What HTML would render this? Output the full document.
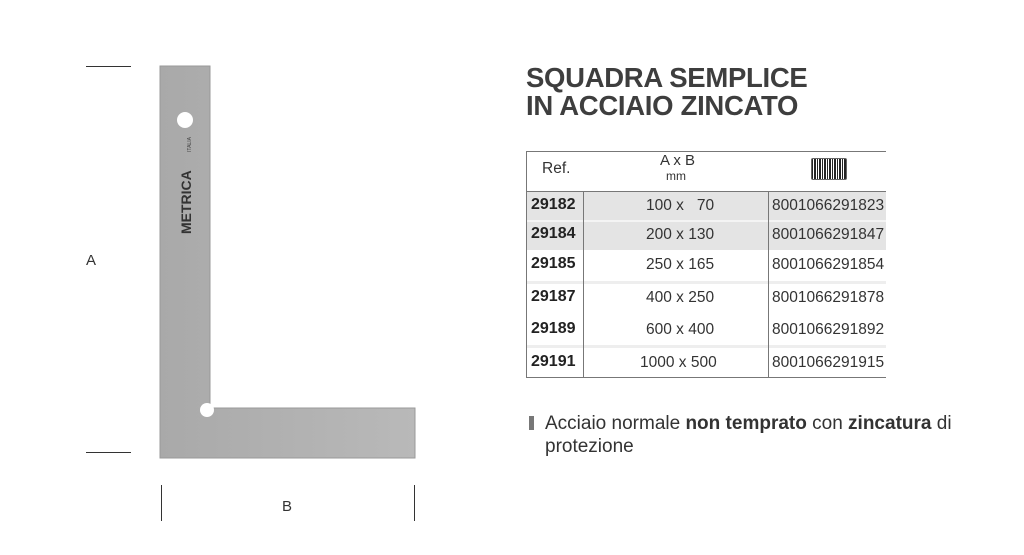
<!DOCTYPE html>
<html><head><meta charset="utf-8"><style>
body{margin:0;width:1024px;height:555px;background:#fff;position:relative;overflow:hidden;font-family:"Liberation Sans",sans-serif;color:#333}
.a{position:absolute}
.t{font-weight:bold;font-size:27.5px;color:#3e3e3e;letter-spacing:-0.3px;line-height:28px}
.c{position:absolute;font-size:15.5px;color:#333;white-space:nowrap}
.r{font-weight:bold;font-size:16px;color:#222}
</style></head><body>
<div class="a" style="left:86px;top:66px;width:45px;height:1px;background:#333"></div>
<div class="a" style="left:86px;top:452px;width:45px;height:1px;background:#333"></div>
<div class="c" style="left:86px;top:252px;font-size:15px">A</div>
<div class="a" style="left:161px;top:485px;width:1px;height:36px;background:#333"></div>
<div class="a" style="left:414px;top:485px;width:1px;height:36px;background:#333"></div>
<div class="c" style="left:282px;top:498px;font-size:15px">B</div>
<svg class="a" style="left:0;top:0" width="1024" height="555">
<defs><linearGradient id="g" x1="0" x2="1"><stop offset="0" stop-color="#a9a9a9"/><stop offset="1" stop-color="#b9b9b9"/></linearGradient></defs>
<path d="M160 66 H210 V408 H415 V458 H160 Z" fill="url(#g)" stroke="#999" stroke-width="1"/>
<circle cx="185" cy="120" r="8" fill="#fff"/>
<circle cx="207" cy="410" r="7" fill="#fff"/>
<text x="0" y="0" transform="translate(191,234) rotate(-90)" font-family="Liberation Sans" font-weight="bold" font-size="14" fill="#333">METRICA</text>
<text x="0" y="0" transform="translate(191,152) rotate(-90)" font-family="Liberation Sans" font-size="5" fill="#444">ITALIA</text>
</svg>
<div class="a t" style="left:526px;top:64px">SQUADRA SEMPLICE<br>IN ACCIAIO ZINCATO</div>
<div class="a" style="left:526px;top:151px;width:360px;height:1px;background:#777"></div>
<div class="a" style="left:526px;top:151px;width:1px;height:227px;background:#777"></div>
<div class="a" style="left:526px;top:377px;width:360px;height:1px;background:#777"></div>
<div class="a" style="left:526px;top:191px;width:360px;height:1px;background:#777"></div>
<div class="a" style="left:527px;top:192px;width:359px;height:58px;background:#e4e4e4"></div>
<div class="a" style="left:527px;top:220px;width:359px;height:2px;background:#f4f4f4"></div>
<div class="a" style="left:527px;top:281px;width:359px;height:3px;background:#eee"></div>
<div class="a" style="left:527px;top:345px;width:359px;height:3px;background:#eee"></div>
<div class="a" style="left:583px;top:192px;width:1px;height:185px;background:#777"></div>
<div class="a" style="left:768px;top:192px;width:1px;height:185px;background:#777"></div>
<div class="c" style="left:542px;top:160px">Ref.</div>
<div class="c" style="left:660px;top:152px;font-size:15px">A x B</div>
<div class="c" style="left:666px;top:169px;font-size:12px">mm</div>
<div class="a" style="left:811px;top:158px;width:34px;height:20px;border:1px solid #666;border-radius:2px;background:repeating-linear-gradient(90deg,#222 0 1px,#fff 1px 2px,#222 2px 4px,#fff 4px 5px)"></div>
<div class="c r" style="left:531px;top:196px">29182</div><div class="c" style="left:646px;top:197px">100 x &nbsp;&nbsp;70</div><div class="c" style="left:772px;top:197px">8001066291823</div>
<div class="c r" style="left:531px;top:225px">29184</div><div class="c" style="left:646px;top:226px">200 x 130</div><div class="c" style="left:772px;top:226px">8001066291847</div>
<div class="c r" style="left:531px;top:255px">29185</div><div class="c" style="left:646px;top:256px">250 x 165</div><div class="c" style="left:772px;top:256px">8001066291854</div>
<div class="c r" style="left:531px;top:288px">29187</div><div class="c" style="left:646px;top:289px">400 x 250</div><div class="c" style="left:772px;top:289px">8001066291878</div>
<div class="c r" style="left:531px;top:320px">29189</div><div class="c" style="left:646px;top:321px">600 x 400</div><div class="c" style="left:772px;top:321px">8001066291892</div>
<div class="c r" style="left:531px;top:353px">29191</div><div class="c" style="left:640px;top:354px">1000 x 500</div><div class="c" style="left:772px;top:354px">8001066291915</div>
<div class="a" style="left:529px;top:416px;width:5px;height:14px;background:#777"></div>
<div class="a" style="left:545px;top:412px;font-size:19px;line-height:23px;color:#333;width:470px;white-space:nowrap">Acciaio normale <b>non temprato</b> con <b>zincatura</b> di<br>protezione</div>
</body></html>
